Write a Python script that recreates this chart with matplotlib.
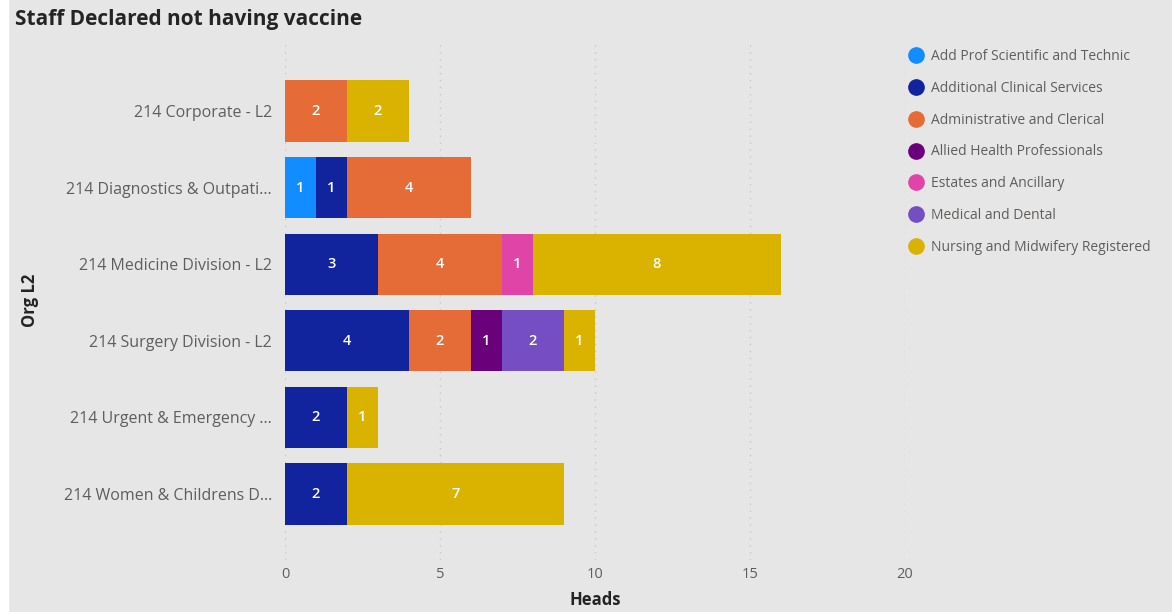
import matplotlib.pyplot as plt
import numpy as np
from matplotlib.lines import Line2D
from matplotlib.patches import Rectangle

plt.rcParams['font.family'] = ['Open Sans', 'DejaVu Sans']

# данные
orgs = ['214 Corporate - L2', '214 Diagnostics & Outpati...', '214 Medicine Division - L2',
        '214 Surgery Division - L2', '214 Urgent & Emergency ...', '214 Women & Childrens D...']
groups = ['Add Prof Scientific and Technic', 'Additional Clinical Services',
          'Administrative and Clerical', 'Allied Health Professionals',
          'Estates and Ancillary', 'Medical and Dental', 'Nursing and Midwifery Registered']
add_prof = [0, 1, 0, 0, 0, 0]
add_clin = [0, 1, 3, 4, 2, 2]
admin = [2, 4, 4, 2, 0, 0]
allied = [0, 0, 0, 1, 0, 0]
estates = [0, 0, 1, 0, 0, 0]
medical = [0, 0, 0, 2, 0, 0]
nursing = [2, 0, 8, 1, 1, 7]
colors = ['#118DFF', '#12239E', '#E66C37', '#6B007B', '#E044A7', '#744EC2', '#D9B300']
xticks = [0, 5, 10, 15, 20]

series = [add_prof, add_clin, admin, allied, estates, medical, nursing]

fig = plt.figure(figsize=(11.72, 6.12), dpi=100, facecolor='#E6E6E6')
fig.add_artist(Rectangle((0, 0), 8 / 1172, 1, transform=fig.transFigure, color='white', zorder=0))
ax = fig.add_axes([285 / 1172, 52 / 612, 620 / 1172, 518 / 612])
ax.set_facecolor('#E6E6E6')

y = np.arange(len(orgs))
left = np.zeros(len(orgs))
for vals, col in zip(series, colors):
    vals = np.array(vals)
    bars = ax.barh(y, vals, left=left, height=0.8, color=col, zorder=2)
    labels = [str(v) if v > 0 else '' for v in vals]
    ax.bar_label(bars, labels=labels, label_type='center', color='white',
                 fontsize=10.5, fontweight='semibold')
    left += vals

ax.set_xlim(0, 20)
ax.set_ylim(5.86, -0.9)
ax.set_xticks(xticks)
ax.set_xticklabels([str(t) for t in xticks], color='#605E5C', fontsize=10.5)
ax.set_yticks(y)
ax.set_yticklabels(orgs, color='#605E5C', fontsize=11.5)
ax.tick_params(axis='x', length=0, pad=5)
ax.tick_params(axis='y', length=0, pad=9.5)
ax.grid(axis='x', linestyle=(0, (1, 4)), color='#C8C8C8', linewidth=1, zorder=0)
ax.set_axisbelow(True)
for s in ax.spines.values():
    s.set_visible(False)

fig.text(595 / 1172, 1 - 600 / 612, 'Heads', fontsize=12, fontweight='bold',
         color='#252423', ha='center', va='center')
fig.text(30 / 1172, 1 - 300 / 612, 'Org L2', rotation=90, fontsize=12, fontweight='bold',
         color='#252423', ha='center', va='center')
fig.text(15 / 1172, 1 - 20 / 612, 'Staff Declared not having vaccine', fontsize=15,
         fontweight='bold', color='#252423', ha='left', va='center')

# легенда
handles = [Line2D([], [], marker='o', linestyle='', markersize=11, color=c) for c in colors]
fig.legend(handles, groups, loc='upper left', bbox_to_anchor=(908 / 1172, 1 - 49 / 612),
           frameon=False, fontsize=10, labelcolor='#605E5C', handletextpad=0.45,
           labelspacing=1.21, handlelength=1.2, borderaxespad=0, borderpad=0)

plt.savefig('out.png', dpi=100, facecolor=fig.get_facecolor())
